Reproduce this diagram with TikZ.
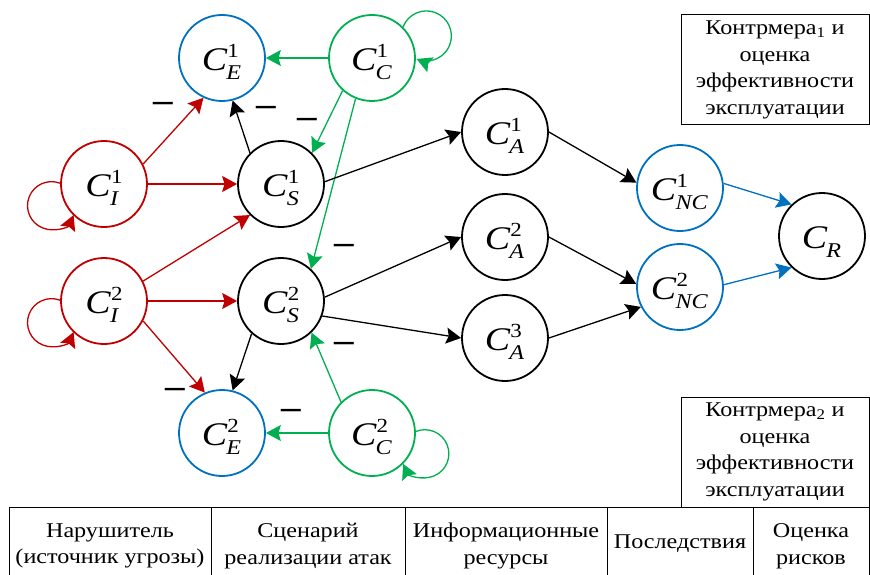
\documentclass[tikz,border=0pt]{standalone}
\usepackage{fontspec}
\setmainfont{Liberation Serif}[FakeStretch=1.15]
\usetikzlibrary{arrows.meta}

\definecolor{mred}{RGB}{192,0,0}
\definecolor{mgreen}{RGB}{0,176,80}
\definecolor{mblue}{RGB}{0,112,192}

% C with a stacked upper and lower index
\newsavebox\supbox
\newsavebox\subbox
\newcommand{\cv}[2]{%
  \sbox\supbox{\fontsize{20}{20}\selectfont #1}%
  \sbox\subbox{\fontsize{21}{21}\selectfont\textit{#2}}%
  \textit{C}\raisebox{13pt}{\rlap{\usebox\supbox}}%
  \kern-1pt\raisebox{-9pt}{\rlap{\usebox\subbox}}\kern1pt%
  \ifdim\wd\supbox>\wd\subbox\kern\wd\supbox\else\kern\wd\subbox\fi}

\begin{document}
\begin{tikzpicture}[x=1pt, y=1pt,
  vertex/.style={circle, draw, line width=1.8pt, minimum size=86pt,
    inner sep=0pt, text height=31pt, text depth=6pt,
    font=\fontsize{33}{38}\selectfont},
  arr/.style={-{Stealth[length=15pt,width=16pt,inset=2.5pt]}, line width=1.3pt},
  negmark/.style={font=\fontsize{34}{34}\selectfont\bfseries, inner sep=0pt},
  txt/.style={font=\fontsize{21}{26.7}\selectfont, align=center, inner sep=1pt}]

      \useasboundingbox (0,0) rectangle (870,-575);

      % Threat sources.
      \node[vertex, mred] (ci1) at (104,-184) {\color{black}\cv{1}{I}};
      \node[vertex, mred] (ci2) at (104,-301) {\color{black}\cv{2}{I}};

      % Attack scenarios.
      \node[vertex] (cs1) at (281,-184) {\cv{1}{S}};
      \node[vertex] (cs2) at (281,-301) {\cv{2}{S}};

      % Exploitation and countermeasure vertices.
      \node[vertex, mblue] (ce1) at (222,-58) {\color{black}\cv{1}{E}};
      \node[vertex, mblue] (ce2) at (222,-433) {\color{black}\cv{2}{E}};
      \node[vertex, mgreen] (cc1) at (372,-58) {\color{black}\cv{1}{C}};
      \node[vertex, mgreen] (cc2) at (372,-433) {\color{black}\cv{2}{C}};

      % Information resources.
      \node[vertex] (ca1) at (505,-132) {\cv{1}{A}};
      \node[vertex] (ca2) at (505,-237) {\cv{2}{A}};
      \node[vertex] (ca3) at (505,-338) {\cv{3}{A}};

      % Consequences and risk.
      \node[vertex, mblue] (nc1) at (680,-188) {\color{black}\cv{1}{NC}};
      \node[vertex, mblue] (nc2) at (680,-287) {\color{black}\cv{2}{NC}};
      \node[vertex] (cr) at (822,-236) {\cv{}{R}};

      % Red arcs from the threat sources.
      \draw[mred, arr] (ci1.27) -- (ce1.245);
      \draw[mred, arr] (ci1.0) -- (cs1.180);
      \draw[mred, arr] (ci2.27) -- (cs1.225);
      \draw[mred, arr] (ci2.0) -- (cs2.180);
      \draw[mred, arr] (ci2.-27) -- (ce2.113);
      \draw[mred, arr] (ci1.179) arc[start angle=69, end angle=337, radius=24pt];
      \draw[mred, arr] (ci2.179) arc[start angle=69, end angle=337, radius=24pt];

      % Green arcs from the countermeasures.
      \draw[mgreen, arr] (cc1.180) -- (ce1.0);
      \draw[mgreen, arr] (cc1.228) -- (cs1.45);
      \draw[mgreen, arr] (cc1.248) -- (cs2.47);
      \draw[mgreen, arr] (cc2.135) -- (cs2.-46);
      \draw[mgreen, arr] (cc2.180) -- (ce2.0);
      \draw[mgreen, arr] (cc1.45) arc[start angle=159, end angle=-113, radius=25pt];
      \draw[mgreen, arr] (cc2.2) arc[start angle=112, end angle=-155, radius=24pt];

      % Black arcs through the scenarios and resources.
      \draw[arr] (cs1.135) -- (ce1.-76);
      \draw[arr] (cs2.228) -- (ce2.76);
      \draw[arr] (cs1.3) -- (ca1.180);
      \draw[arr] (cs2.5) -- (ca2.180);
      \draw[arr] (cs2.-20) -- (ca3.180);
      \draw[arr] (ca1.0) -- (nc1.173);
      \draw[arr] (ca2.0) -- (nc2.176);
      \draw[arr] (ca3.0) -- (nc2.207);

      % Blue arcs into the risk estimate.
      \draw[mblue, arr] (nc1.6) -- (cr.134);
      \draw[mblue, arr] (nc2.3) -- (cr.226);

      % Negative influence marks.
      \node[negmark] (m1) at (163,-107) {–};
      \node[negmark] (m2) at (266,-111) {–};
      \node[negmark] (m3) at (307,-123) {–};
      \node[negmark] (m4) at (344,-249) {–};
      \node[negmark] (m5) at (344,-347) {–};
      \node[negmark] (m6) at (175,-393) {–};
      \node[negmark] (m7) at (291,-414) {–};

      % Countermeasure boxes.
      \node[txt, draw, line width=1pt, minimum width=188pt, minimum height=110pt]
      (box1) at (775,-70) {Контрмера\textsubscript{1} и\\оценка\\эффективности\\эксплуатации};
      \node[txt, draw, line width=1pt, minimum width=188pt, minimum height=110pt]
      (box2) at (775,-452) {Контрмера\textsubscript{2} и\\оценка\\эффективности\\эксплуатации};

      % Legend row at the bottom.
      \draw[line width=1pt] (9,-580) -- (9,-507) -- (869,-507) -- (869,-580);
      \foreach \xc in {211,405,607,753}
        \draw[line width=1pt] (\xc,-507) -- (\xc,-580);
      \node[txt] (l1) at (110,-546) {Нарушитель\\(источник угрозы)};
      \node[txt] (l2) at (308,-546) {Сценарий\\реализации атак};
      \node[txt] (l3) at (506,-546) {Информационные\\ресурсы};
      \node[txt] (l4) at (680,-544) {Последствия};
      \node[txt] (l5) at (811,-546) {Оценка\\рисков};
    \end{tikzpicture}
\end{document}
